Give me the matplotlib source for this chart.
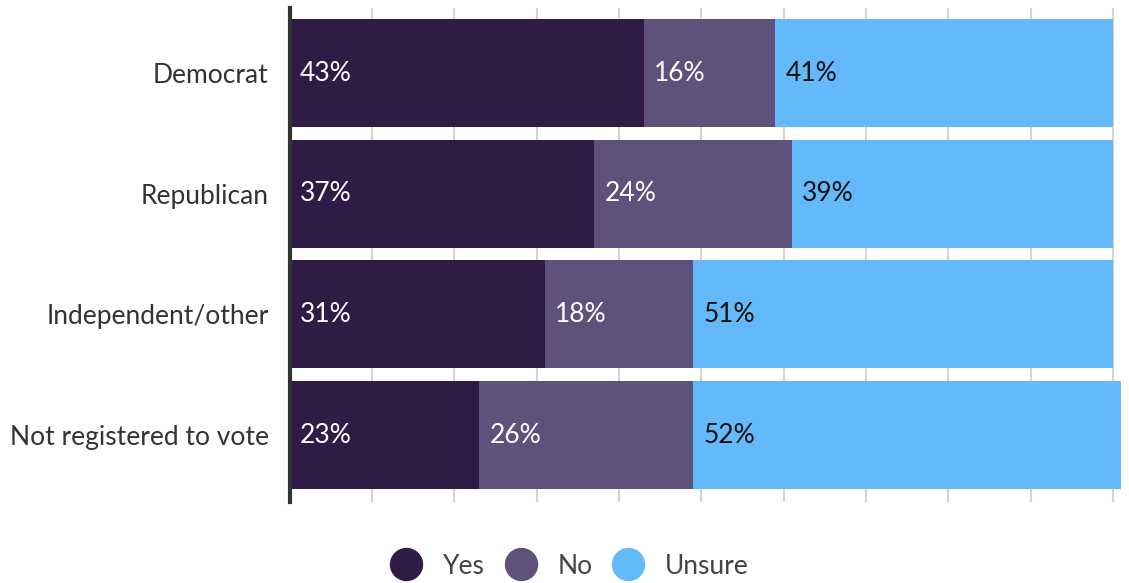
import matplotlib.pyplot as plt
from matplotlib.lines import Line2D

# data
categories = ["Democrat", "Republican", "Independent/other", "Not registered to vote"]
yes = [43, 37, 31, 23]
no = [16, 24, 18, 26]
unsure = [41, 39, 51, 52]
series_names = ["Yes", "No", "Unsure"]

colors = ["#2f1b45", "#5e527c", "#64b9fa"]
label_colors = ["white", "white", "#111111"]

plt.rcParams['font.family'] = ['Lato', 'DejaVu Sans']
FS = 19

W, H = 1129, 583
fig = plt.figure(figsize=(W / 100, H / 100), dpi=100)
x0, scale = 289.5, 8.235
ax = fig.add_axes([x0 / W, 81 / H, (101 * scale) / W, 494 / H])

ypos = list(range(len(categories)))
left = [0] * len(categories)
for vals, col, tcol in zip([yes, no, unsure], colors, label_colors):
    bars = ax.barh(ypos, vals, left=left, height=0.895, color=col, zorder=2)
    for b, v, l in zip(bars, vals, left):
        ax.annotate(f"{v}%", (l, b.get_y() + b.get_height() / 2),
                    xytext=(7.5, 0), textcoords="offset points",
                    va="center", ha="left", color=tcol, fontsize=FS)
    left = [a + b for a, b in zip(left, vals)]

ax.set_xlim(0, 101)
ax.set_ylim(3.555, -0.539)
ax.set_xticks(range(0, 101, 10))
ax.set_xticklabels([])
ax.tick_params(axis='x', length=0)
ax.grid(axis='x', color='#d4d4d4', linewidth=1.5, zorder=0)
ax.set_axisbelow(True)
ax.set_yticks(ypos)
ax.set_yticklabels(categories, fontsize=FS, color='#333333')
ax.tick_params(axis='y', length=0, pad=15)
for s in ['top', 'right', 'bottom']:
    ax.spines[s].set_visible(False)
ax.spines['left'].set_color('#333333')
ax.spines['left'].set_linewidth(3)
ax.spines['left'].set_zorder(3)

handles = [Line2D([], [], marker='o', linestyle='none', markersize=23,
                  markerfacecolor=c, markeredgecolor=c) for c in colors]
fig.legend(handles, series_names, loc='center', bbox_to_anchor=(0.5, 1 - 566 / H),
           ncol=3, frameon=False, handletextpad=0.4,
           columnspacing=0.35, labelcolor='#444444', prop={'size': FS})

fig.savefig("out.png", dpi=100)
